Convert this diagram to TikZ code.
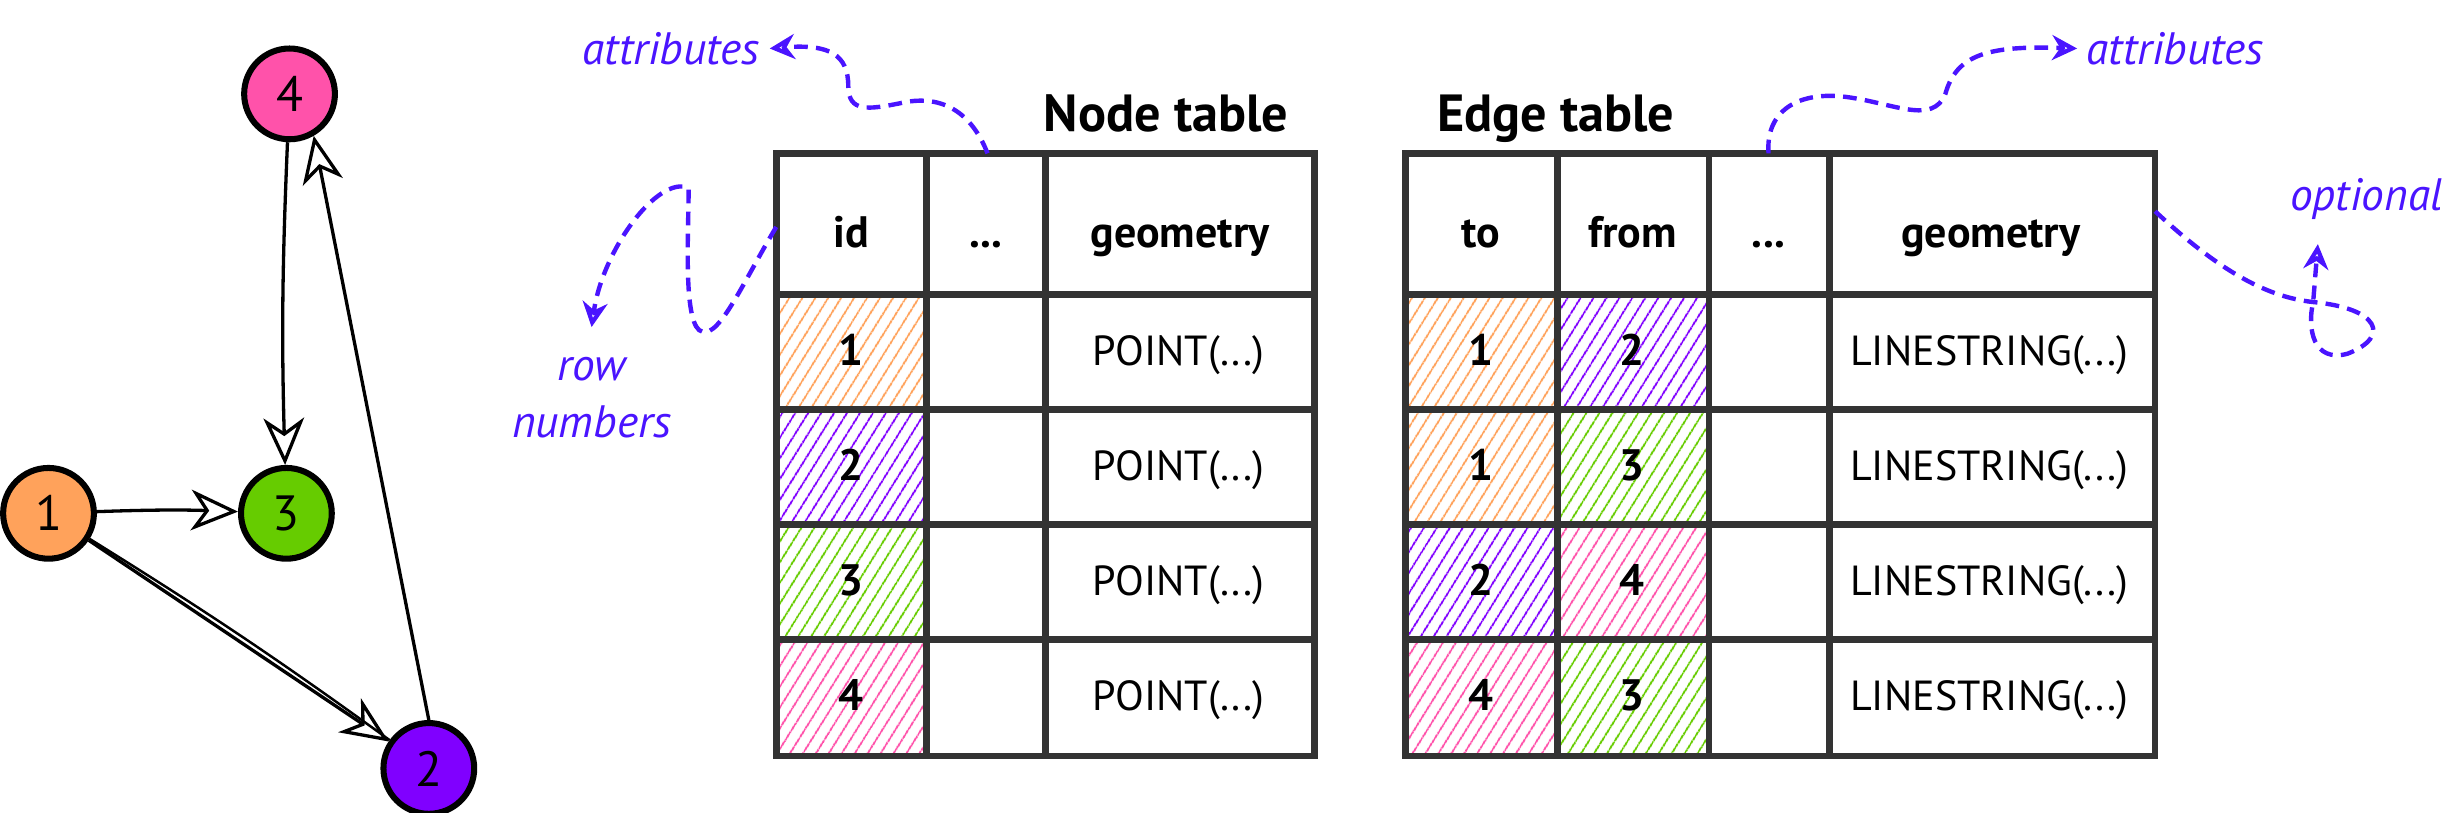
\documentclass[tikz,border=0pt]{standalone}
\usepackage{fontspec}
\setmainfont{PT Sans}
\usetikzlibrary{arrows.meta,patterns.meta}

\definecolor{nodeorange}{HTML}{FFA25B}
\definecolor{nodepurple}{HTML}{8000FF}
\definecolor{nodegreen}{HTML}{66CC00}
\definecolor{nodepink}{HTML}{FF52AA}
\definecolor{notecol}{HTML}{4A14FF}
\definecolor{gridcol}{HTML}{333333}

\tikzset{
  gnode/.style={circle, draw=black, line width=2.2pt, minimum size=1.16cm, inner sep=0pt, font=\fontsize{18}{21}\selectfont},
  gedge/.style={line width=1.2pt, -{Stealth[open, length=6mm, width=5.2mm, inset=1.8mm]}},
  gridline/.style={draw=gridcol, line width=2.4pt},
  head/.style={anchor=base, font=\fontsize{16}{19}\selectfont\bfseries},
  cell/.style={anchor=base, font=\fontsize{15.3}{18}\selectfont},
  num/.style={anchor=base, font=\fontsize{16}{19}\selectfont\bfseries},
  title/.style={anchor=base, font=\fontsize{19}{22}\selectfont\bfseries},
  note/.style={text=notecol, align=center, font=\fontsize{16.5}{20.5}\selectfont\itshape},
  notearrow/.style={draw=notecol, line width=1.6pt, dash pattern=on 5pt off 3pt, -{Stealth[open, length=3.2mm, width=3.2mm]}},
  hatch/.style={pattern={Lines[angle=58, distance=4pt, line width=0.75pt]}, pattern color=#1}
}

\begin{document}
\begin{tikzpicture}[x=0.02cm, y=-0.02cm]
\useasboundingbox (0,0) rectangle (1568,519);

\node[gnode, fill=nodepink] (g4) at (185,60) {4};
\node[gnode, fill=nodegreen] (g3) at (183,328) {3};
\node[gnode, fill=nodeorange] (g1) at (31,328) {1};
\node[gnode, fill=nodepurple] (g2) at (274,491) {2};

\draw[gedge] (g4) to[bend right=2] (g3);
\draw[gedge] (g1) to[bend left=2] (g3);
\draw[gedge] (g1) -- (g2);
\draw[line width=0.9pt] (g1) to[bend left=2] (g2);
\draw[gedge] (g2.north) -- (g4.-60);

\foreach \t/\c [count=\i] in {188/nodeorange,261.5/nodepurple,335/nodegreen,408.5/nodepink}
{
\fill[hatch=\c] (496,\t) rectangle (592,\t+73.5);
\node[num] (nid\i) at (544,\t+45.5) {\i};
\node[cell] (npt\i) at (753,\t+45.5) {POINT(...)};
}
\draw[gridline] (496,98) rectangle (840,483);
\foreach \x in {592,668}
\draw[gridline] (\x,98) -- (\x,483);
\foreach \y in {188,261.5,335,408.5}
\draw[gridline] (496,\y) -- (840,\y);
\node[head] (nhid) at (544,158) {id};
\node[head] (nhdots) at (630,158) {...};
\node[head] (nhgeom) at (754,158) {geometry};
\node[title] (ntitle) at (745,84) {Node table};

\foreach \t/\a/\ca/\b/\cb [count=\i] in {188/1/nodeorange/2/nodepurple,261.5/1/nodeorange/3/nodegreen,335/2/nodepurple/4/nodepink,408.5/4/nodepink/3/nodegreen}
{
\fill[hatch=\ca] (898,\t) rectangle (995,\t+73.5);
\fill[hatch=\cb] (995,\t) rectangle (1092,\t+73.5);
\node[num] (eto\i) at (946,\t+45.5) {\a};
\node[num] (efrom\i) at (1043,\t+45.5) {\b};
\node[cell] (els\i) at (1271,\t+45.5) {LINESTRING(...)};
}
\draw[gridline] (898,98) rectangle (1377,483);
\foreach \x in {995,1092,1169}
\draw[gridline] (\x,98) -- (\x,483);
\foreach \y in {188,261.5,335,408.5}
\draw[gridline] (898,\y) -- (1377,\y);
\node[head] (ehto) at (946,158) {to};
\node[head] (ehfrom) at (1043,158) {from};
\node[head] (ehdots) at (1130,158) {...};
\node[head] (ehgeom) at (1272,158) {geometry};
\node[title] (etitle) at (994,84) {Edge table};

\node[note] (attl) at (429,31) {attributes};
\node[note] (attr) at (1390,31) {attributes};
\node[note] (rown) at (378,254) {row\\numbers};
\node[note] (opt) at (1512,127) {optional};
\coordinate (ntabtop) at (631,98);
\coordinate (ntableft) at (496,145);
\coordinate (etabtop) at (1130,98);
\coordinate (etabright) at (1377,135);
\coordinate (optend) at (1481,156);
\coordinate (rowend) at (378,209);

\draw[notearrow] (ntabtop) .. controls (620,70) and (600,60) .. (575,66) .. controls (555,70) and (542,72) .. (542,55) .. controls (542,35) and (530,28) .. (attl.east);
\draw[notearrow] (etabtop) .. controls (1128,70) and (1150,58) .. (1180,62) .. controls (1210,66) and (1235,80) .. (1243,60) .. controls (1250,35) and (1270,29) .. (attr.west);
\draw[notearrow] (ntableft) .. controls (475,180) and (460,215) .. (449,212) .. controls (436,210) and (440,150) .. (440,120) .. controls (420,112) and (385,160) .. (rowend);
\draw[notearrow] (etabright) .. controls (1420,175) and (1450,190) .. (1478,193) .. controls (1520,197) and (1528,215) .. (1500,226) .. controls (1478,232) and (1474,210) .. (1478,193) -- (optend);
\end{tikzpicture}
\end{document}
